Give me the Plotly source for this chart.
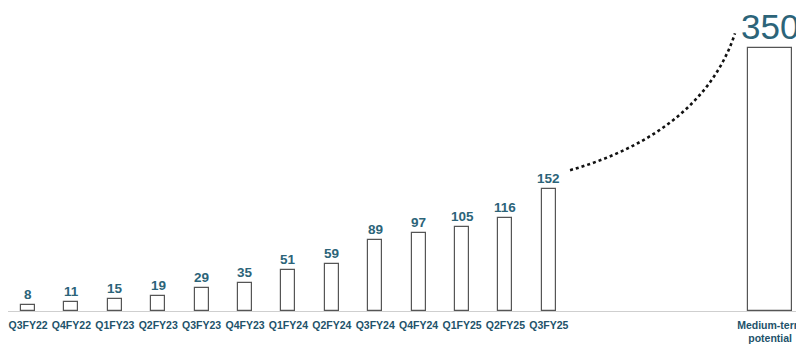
import plotly.graph_objects as go

quarters = ["Q3FY22", "Q4FY22", "Q1FY23", "Q2FY23", "Q3FY23", "Q4FY23", "Q1FY24",
            "Q2FY24", "Q3FY24", "Q4FY24", "Q1FY25", "Q2FY25", "Q3FY25"]
values = [8, 11, 15, 19, 29, 35, 51, 59, 89, 97, 105, 116, 152]
target_label = "Medium-term<br>potential"
target_value = 350

VAL_COLOR = "#2c6479"
TICK_COLOR = "#22526a"
EDGE = "#555555"

xq = list(range(len(quarters)))
x_target = 17.1

fig = go.Figure()
fig.add_trace(go.Bar(x=xq, y=values, width=0.32,
                     marker=dict(color="white", line=dict(color=EDGE, width=1.2)),
                     showlegend=False, hoverinfo="x+y"))
fig.add_trace(go.Bar(x=[x_target], y=[target_value], width=1.01, yaxis="y2",
                     marker=dict(color="white", line=dict(color=EDGE, width=1.2)),
                     showlegend=False))

ann = []
for x, v in zip(xq, values):
    ann.append(dict(x=x, y=v, xref="x", yref="y", text=f"<b>{v}</b>", showarrow=False,
                    yanchor="bottom", yshift=1,
                    font=dict(family="Liberation Sans, Arial", size=13.5, color=VAL_COLOR)))
ann.append(dict(x=x_target, y=target_value, xref="x", yref="y2", text=str(target_value),
                showarrow=False, yanchor="bottom", yshift=0,
                font=dict(family="Liberation Sans, Arial", size=35, color=VAL_COLOR)))
fig.update_layout(annotations=ann)

# dotted growth curve (decorative), from top of last quarter to the target label
x0, y0 = xq[-1] + 0.49, values[-1] + 24
x3, y3 = x_target - 0.81, 347
fig.add_shape(type="path", xref="x", yref="y",
              path=f"M {x0},{y0} C 14.1,201 15.71,251 {x3},{y3}",
              line=dict(color="#111111", width=2.6, dash="dot"))

fig.update_layout(
    width=804, height=345,
    margin=dict(l=0, r=10, t=12, b=42),
    paper_bgcolor="white", plot_bgcolor="white",
    bargap=0,
    xaxis=dict(range=[-0.461, 17.834], tickmode="array",
               tickvals=xq + [x_target],
               ticktext=[f"<b>{q}</b>" for q in quarters] + [f"<b>{target_label}</b>"],
               tickfont=dict(family="Liberation Sans, Arial", size=10.5, color=TICK_COLOR),
               showgrid=False, zeroline=False, showline=True, linecolor="#cfcfcf",
               linewidth=1.2, ticks="", tickangle=0, ticklabelstandoff=4),
    yaxis=dict(range=[0, 363.75], visible=False, showgrid=False),
    yaxis2=dict(range=[0, 387.3], visible=False, overlaying="y", showgrid=False),
)

fig.write_html("out.html")
